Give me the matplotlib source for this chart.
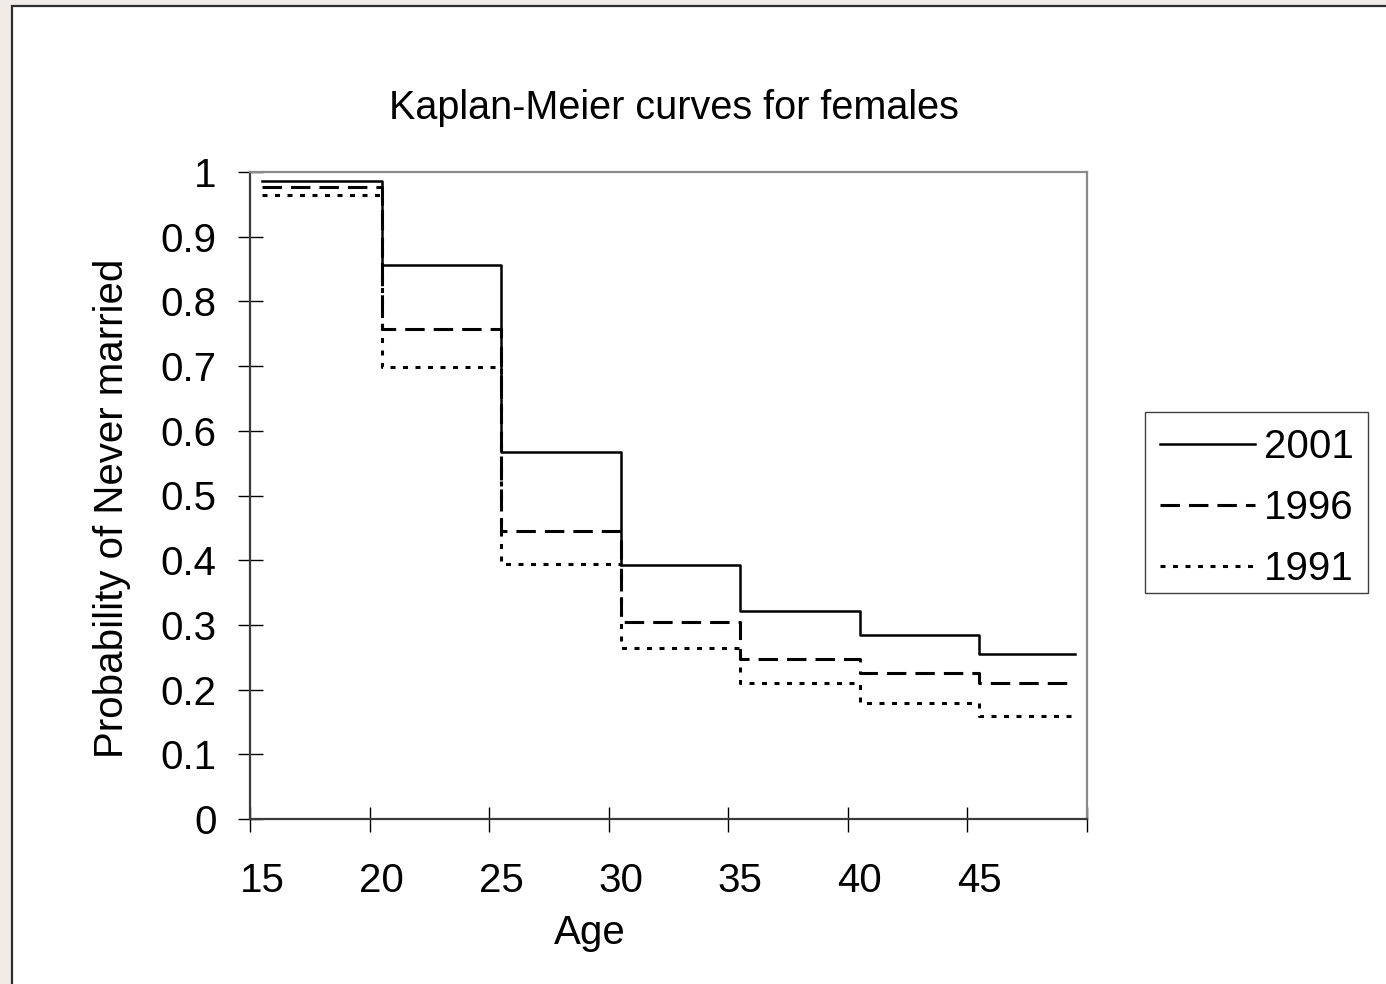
import matplotlib
matplotlib.use("Agg")
import matplotlib.pyplot as plt
from matplotlib.patches import Rectangle
from matplotlib.lines import Line2D

plt.rcParams["font.family"] = ["Liberation Sans", "DejaVu Sans"]
plt.rcParams["lines.scale_dashes"] = False

# Interval boundaries (ages, plotted at mid-year) and survival estimates per interval
step_ages = [15.5, 20.5, 25.5, 30.5, 35.5, 40.5, 45.5, 49.5]
tick_ages = [15, 20, 25, 30, 35, 40, 45, 50]
label_ages = ["15", "20", "25", "30", "35", "40", "45"]

km_2001 = [0.986, 0.856, 0.567, 0.392, 0.322, 0.285, 0.255]
km_1996 = [0.977, 0.757, 0.445, 0.304, 0.248, 0.225, 0.210]
km_1991 = [0.965, 0.698, 0.394, 0.264, 0.210, 0.179, 0.159]

series = [
    ("2001", km_2001, "-", 1.8),
    ("1996", km_1996, (0, (14, 6.5)), 2.2),
    ("1991", km_1991, (0, (3.6, 5.4)), 2.2),
]

FS = 29
W, H = 1386, 984
fig = plt.figure(figsize=(W / 100, H / 100), dpi=100)
fig.patch.set_facecolor("#f1ebe8")

# white chart sheet with a dark border
sheet = Rectangle((12 / W, -0.05), 1.1, 1 - 6 / H + 0.05, transform=fig.transFigure,
                  facecolor="white", edgecolor="#2e2e2e", linewidth=1.6, zorder=0)
fig.add_artist(sheet)

ax = fig.add_axes([250 / W, 1 - 819 / H, (1087 - 250) / W, (819 - 172) / H])
ax.set_facecolor("none")

for name, vals, ls, lw in series:
    ax.step(step_ages, list(vals) + [vals[-1]], where="post", color="black",
            linestyle=ls, linewidth=lw, label=name)

ax.set_xlim(15, 50)
ax.set_ylim(0, 1)

ax.set_xticks(tick_ages)
ax.set_xticklabels([])
ax.set_xticks([a + 0.5 for a in tick_ages[:-1]], minor=True)
ax.set_xticklabels(label_ages, minor=True)
ax.tick_params(axis="x", which="major", direction="inout", length=18, width=1.0, color="black")
ax.tick_params(axis="x", which="minor", length=0, pad=31, labelsize=FS)

yt = [i / 10 for i in range(11)]
ax.set_yticks(yt)
ax.set_yticklabels(["0"] + [f"{v:.1f}" for v in yt[1:-1]] + ["1"])
ax.tick_params(axis="y", which="major", direction="inout", length=18, width=1.0,
               color="black", pad=15, labelsize=FS)

for s in ("top", "right"):
    ax.spines[s].set_color("#8a8a8a")
    ax.spines[s].set_linewidth(1.6)
for s in ("left", "bottom"):
    ax.spines[s].set_color("#3a3a3a")
    ax.spines[s].set_linewidth(1.6)

fig.text(674 / W, 1 - 108 / H, "Kaplan-Meier curves for females", ha="center",
         va="center", fontsize=28.5)
fig.text(590 / W, 1 - 933 / H, "Age", ha="center", va="center", fontsize=FS)
fig.text(112 / W, 1 - 508 / H, "Probability of Never married", ha="center",
         va="center", rotation=90, fontsize=FS)

# legend: box drawn separately, entries placed inside it
legend_box = Rectangle((1145 / W, 1 - 593 / H), (1368 - 1145) / W, (593 - 412) / H,
                       transform=fig.transFigure, facecolor="white",
                       edgecolor="#404040", linewidth=1.0, zorder=3)
fig.add_artist(legend_box)
handles = [Line2D([], [], color="black", linestyle=ls, linewidth=lw) for _, _, ls, lw in series]
leg = fig.legend(handles, [n for n, _, _, _ in series], loc="upper left",
                 bbox_to_anchor=(1160 / W, 1 - 428 / H), borderaxespad=0,
                 fontsize=FS, handlelength=2.35, handletextpad=0.22,
                 labelspacing=0.57, borderpad=0, frameon=False)
leg.set_zorder(4)

fig.savefig("out.png", dpi=100)
